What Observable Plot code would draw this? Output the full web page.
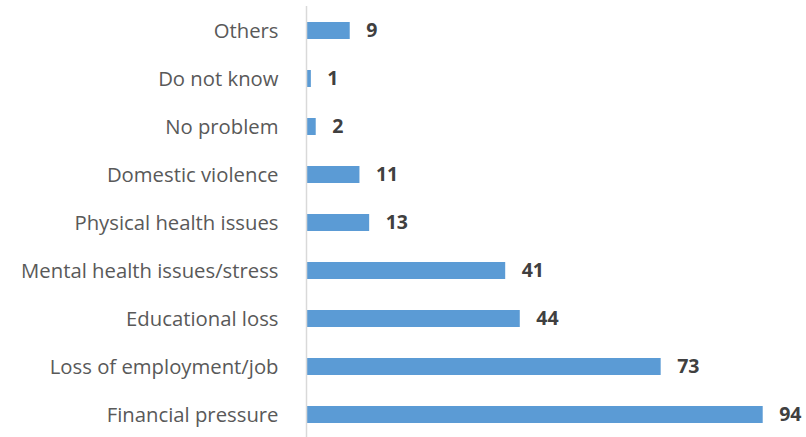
<!DOCTYPE html>
<html>
<head>
<meta charset="utf-8">
<script src="https://cdn.jsdelivr.net/npm/d3@7"></script>
<script src="https://cdn.jsdelivr.net/npm/@observablehq/plot@0.6"></script>
<style>
  html, body { margin: 0; padding: 0; background: #fff; }
</style>
</head>
<body>
<div id="chart"></div>
<script>
const categories = [
  "Others",
  "Do not know",
  "No problem",
  "Domestic violence",
  "Physical health issues",
  "Mental health issues/stress",
  "Educational loss",
  "Loss of employment/job",
  "Financial pressure"
];
const values = [9, 1, 2, 11, 13, 41, 44, 73, 94];

const data = categories.map((c, i) => ({category: c, value: values[i]}));

const chart = Plot.plot({
  width: 806,
  height: 437,
  marginLeft: 306,
  marginRight: 43,
  marginTop: 6,
  marginBottom: 0,
  style: {fontFamily: "'Open Sans', sans-serif", background: "#fff", overflow: "visible"},
  x: {domain: [0, 94], range: [306, 762.7], axis: null},
  y: {domain: categories, range: [6, 440], paddingInner: 0.645, paddingOuter: 0.32, axis: null},
  marks: [
    Plot.barX(data, {x: "value", y: "category", fill: "#5B9BD5"}),
    Plot.ruleX([0], {stroke: "#D9D9D9", strokeWidth: 1.5}),
    Plot.axisY({
      tickSize: 0,
      tickPadding: 28,
      fontSize: 20.3,
      color: "#595959",
      label: null
    }),
    Plot.text(data, {
      x: "value",
      y: "category",
      text: d => String(d.value),
      dx: 16,
      textAnchor: "start",
      fontSize: 19.5,
      fontWeight: "bold",
      fill: "#404040"
    })
  ]
});
document.getElementById("chart").appendChild(chart);
</script>
</body>
</html>
